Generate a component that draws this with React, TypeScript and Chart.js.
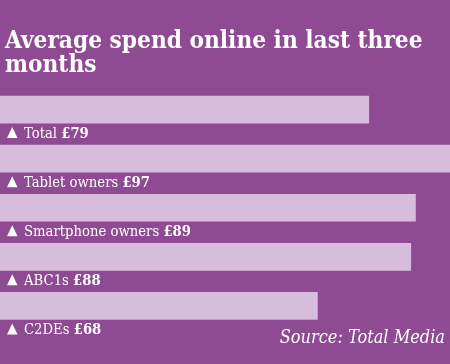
import React, { useEffect, useRef } from "react";
import { Chart, registerables } from "chart.js";

Chart.register(...registerables);

const categories = ["Total", "Tablet owners", "Smartphone owners", "ABC1s", "C2DEs"];
const values = [79, 97, 89, 88, 68];
const titleLines = ["Average spend online in last three", "months"];
const sourceText = "Source: Total Media";

const BG = "#8e4a92";
const BAR = "#d6bddb";
const SERIF = "'DejaVu Serif Condensed', 'DejaVu Serif', serif";

const overlay = {
  id: "overlay",
  beforeDraw(chart: any) {
    const { ctx, width, height } = chart;
    ctx.save();
    ctx.fillStyle = BG;
    ctx.fillRect(0, 0, width, height);
    ctx.restore();
  },
  afterDraw(chart: any) {
    const { ctx, width } = chart;
    const meta = chart.getDatasetMeta(0);
    ctx.save();
    ctx.fillStyle = "#ffffff";
    ctx.textBaseline = "alphabetic";
    ctx.textAlign = "left";
    ctx.font = `bold 24.2px ${SERIF}`;
    ctx.fillText(titleLines[0], 5, 48);
    ctx.fillText(titleLines[1], 5, 72);

    meta.data.forEach((bar: any, i: number) => {
      const base = bar.y + bar.height / 2 + 15;
      const x0 = 7;
      ctx.beginPath();
      ctx.moveTo(x0, base);
      ctx.lineTo(x0 + 10.5, base);
      ctx.lineTo(x0 + 5.25, base - 11);
      ctx.closePath();
      ctx.fill();
      ctx.font = `14.7px ${SERIF}`;
      const t = categories[i] + " ";
      ctx.fillText(t, 24, base);
      const w = ctx.measureText(t).width;
      ctx.font = `bold 14.7px ${SERIF}`;
      ctx.fillText("£" + values[i], 24 + w, base);
    });

    ctx.font = `italic 18px ${SERIF}`;
    ctx.textAlign = "right";
    ctx.fillText(sourceText, width - 5, 343);
    ctx.restore();
  },
};

export default function App() {
  const ref = useRef<HTMLCanvasElement>(null);
  useEffect(() => {
    document.body.style.margin = "0";
    const chart = new Chart(ref.current!, {
      type: "bar",
      data: {
        labels: categories,
        datasets: [
          {
            data: values,
            backgroundColor: BAR,
            borderWidth: 0,
            barThickness: 27,
          },
        ],
      },
      options: {
        indexAxis: "y",
        responsive: false,
        animation: false,
        layout: { padding: { top: 85, bottom: 33.5, left: 0, right: 0 } },
        plugins: { legend: { display: false }, tooltip: { enabled: false }, title: { display: false } },
        scales: {
          x: { display: false, min: 0, max: 96.4 },
          y: { display: false, offset: true },
        },
      },
      plugins: [overlay],
    });
    return () => chart.destroy();
  }, []);
  return <canvas ref={ref} width={450} height={364} style={{ display: "block" }} />;
}
